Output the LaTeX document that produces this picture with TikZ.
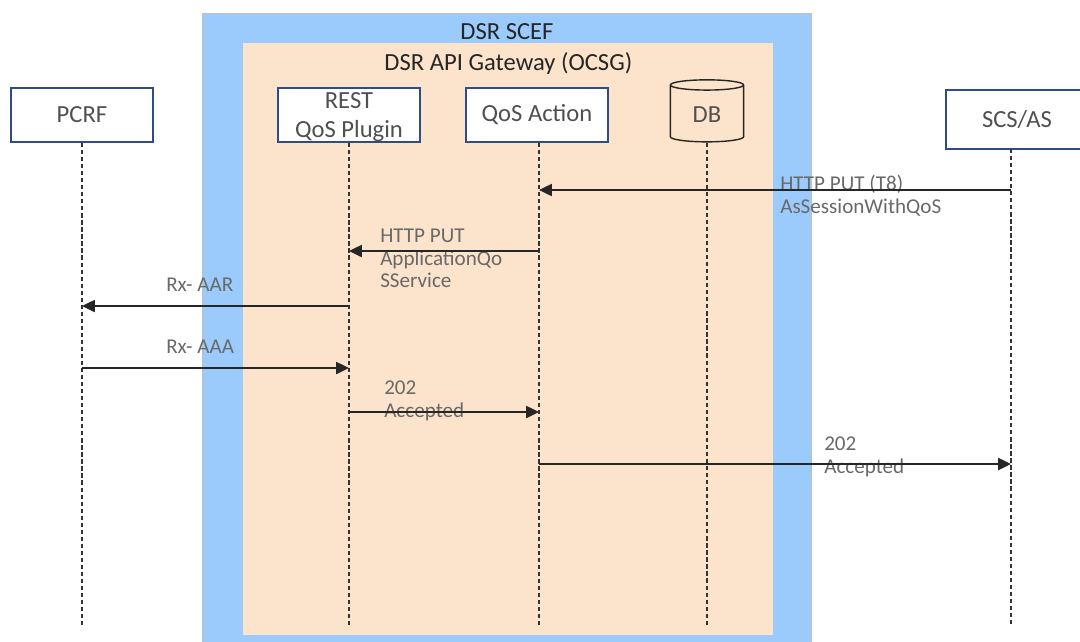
\documentclass[tikz,border=0pt]{standalone}
\usepackage{fontspec}
\setmainfont{Carlito}
\usetikzlibrary{arrows.meta, positioning, shapes.geometric}
\definecolor{scefblue}{RGB}{155,203,252}
\definecolor{gatewaypeach}{RGB}{252,227,203}
\definecolor{boxnavy}{RGB}{47,75,140}
\definecolor{boxtext}{RGB}{80,80,80}
\definecolor{msgtext}{RGB}{105,105,105}
\tikzstyle{container} = [rectangle, anchor=north west, inner sep=0pt]
\tikzstyle{areatitle} = [text=black!85, font=\fontsize{17.5}{21}\selectfont]
\tikzstyle{entity} = [rectangle, draw=boxnavy, line width=1.4pt, fill=white, text=boxtext, text centered, align=center, minimum width=3.55cm, minimum height=1.35cm, font=\fontsize{17.5}{20}\selectfont]
\tikzstyle{database} = [cylinder, shape border rotate=90, aspect=0.27, draw=black!85, line width=1pt, text=boxtext, minimum width=1.83cm, minimum height=1.55cm, font=\fontsize{17.5}{20}\selectfont]
\tikzstyle{lifeline} = [line width=1pt, dash pattern=on 3pt off 2pt, black!80]
\tikzstyle{message} = [line width=1.3pt, black!85, -{Triangle[length=0.32cm, width=0.3cm]}]
\tikzstyle{msglabel} = [anchor=north west, align=left, text=msgtext, inner sep=0pt, font=\fontsize{15}{16}\selectfont]

\begin{document}
\begin{tikzpicture}[x=0.025cm, y=-0.025cm]
\useasboundingbox (0,0) rectangle (1080,641);
\clip (0,0) rectangle (1080,641);
% Nodes
\node (scef) [container, fill=scefblue, draw=black!25, minimum width=15.23cm, minimum height=16cm] at (202,13) {};
\node (gateway) [container, fill=gatewaypeach, minimum width=13.25cm, minimum height=14.78cm] at (243,43) {};
\node (sceftitle) [areatitle, below=0.13cm of scef.north] {DSR SCEF};
\node (gatewaytitle) [areatitle, below=0.12cm of gateway.north] {DSR API Gateway (OCSG)};

\node (pcrf) [entity] at (82,115) {PCRF};
\node (rest) [entity, inner ysep=0pt, text depth=0pt] at (349,115) {REST\\QoS Plugin};
\node (qos) [entity] at (537,115) {QoS Action};
\node (db) [database] at (707,115) {DB};
\node (scs) [entity, minimum height=1.48cm] at (1017,119.5) {SCS/AS};

\coordinate (pcrf-end) at (82,625);
\coordinate (rest-end) at (349,625);
\coordinate (qos-end) at (539,625);
\coordinate (db-end) at (707,625);
\coordinate (scs-start) at (1011,149);
\coordinate (scs-end) at (1011,625);

\node (putt8) [msglabel] at (780,175) {HTTP PUT (T8)\\AsSessionWithQoS};
\node (putqos) [msglabel] at (380,229) {HTTP PUT\\ApplicationQo\\SService};
\node (aar) [msglabel] at (166,278) {Rx- AAR};
\node (aaa) [msglabel] at (166,340) {Rx- AAA};
\node (accqos) [msglabel] at (384,381) {202\\Accepted};
\node (accscs) [msglabel] at (824,437) {202\\Accepted};

% Connections
\draw [lifeline] (pcrf.south) -- (pcrf-end);
\draw [lifeline] (rest.south) -- (rest-end);
\draw [lifeline] (qos.south -| qos-end) -- (qos-end);
\draw [lifeline] (db.south) -- (db-end);
\draw [lifeline] (scs-start) -- (scs-end);

\draw [message] (scs-end |- 0,190) -- (qos-end |- 0,190);
\draw [message] (qos-end |- 0,251) -- (rest-end |- 0,251);
\draw [message] (rest-end |- 0,306) -- (pcrf-end |- 0,306);
\draw [message] (pcrf-end |- 0,368) -- (rest-end |- 0,368);
\draw [message] (rest-end |- 0,412) -- (qos-end |- 0,412);
\draw [message] (qos-end |- 0,464) -- (scs-end |- 0,464);

\end{tikzpicture}
\end{document}
